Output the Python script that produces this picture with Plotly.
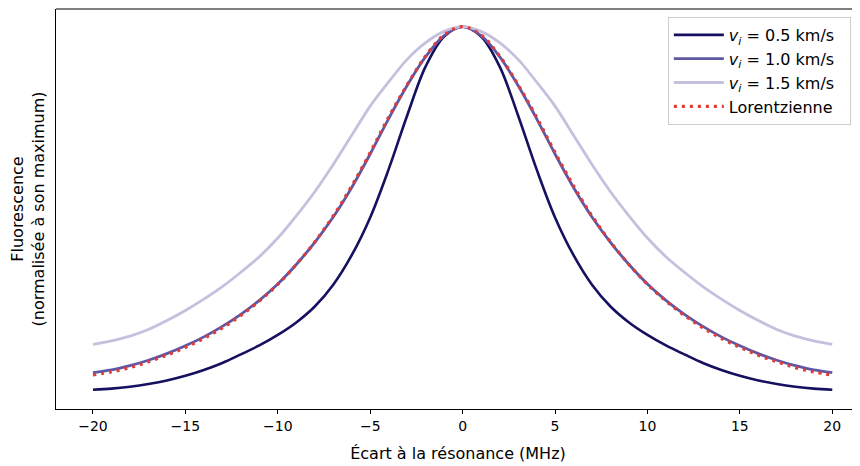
import plotly.graph_objects as go

# Detuning (MHz)
detuning = list(range(-20, 21))

# Normalised fluorescence
v05 = [0.067, 0.070, 0.075, 0.082, 0.091, 0.103, 0.118, 0.136, 0.158, 0.181,
       0.208, 0.240, 0.281, 0.337, 0.413, 0.510, 0.634, 0.772, 0.898, 0.975,
       1.000,
       0.975, 0.898, 0.772, 0.634, 0.510, 0.413, 0.337, 0.281, 0.240, 0.208,
       0.181, 0.158, 0.136, 0.118, 0.103, 0.091, 0.082, 0.075, 0.070, 0.067]
v10 = [0.111, 0.118, 0.129, 0.143, 0.160, 0.180, 0.203, 0.230, 0.261, 0.297,
       0.339, 0.389, 0.446, 0.511, 0.587, 0.673, 0.764, 0.849, 0.923, 0.977,
       1.000,
       0.977, 0.923, 0.849, 0.764, 0.673, 0.587, 0.511, 0.446, 0.389, 0.339,
       0.297, 0.261, 0.230, 0.203, 0.180, 0.160, 0.143, 0.129, 0.118, 0.111]
v15 = [0.184, 0.193, 0.205, 0.222, 0.245, 0.271, 0.300, 0.332, 0.369, 0.409,
       0.457, 0.514, 0.576, 0.646, 0.721, 0.796, 0.858, 0.916, 0.959, 0.988,
       1.000,
       0.988, 0.959, 0.916, 0.858, 0.796, 0.721, 0.646, 0.576, 0.514, 0.457,
       0.409, 0.369, 0.332, 0.300, 0.271, 0.245, 0.222, 0.205, 0.193, 0.184]
lorentz = [0.105, 0.113, 0.124, 0.139, 0.156, 0.176, 0.199, 0.226, 0.258, 0.295,
           0.338, 0.389, 0.447, 0.514, 0.591, 0.677, 0.768, 0.851, 0.925, 0.979,
           1.000,
           0.979, 0.925, 0.851, 0.768, 0.677, 0.591, 0.514, 0.447, 0.389, 0.338,
           0.295, 0.258, 0.226, 0.199, 0.176, 0.156, 0.139, 0.124, 0.113, 0.105]

names = ["<i>v<sub>i</sub></i> = 0.5 km/s\u00a0\u00a0",
         "<i>v<sub>i</sub></i> = 1.0 km/s\u00a0\u00a0",
         "<i>v<sub>i</sub></i> = 1.5 km/s\u00a0\u00a0",
         "Lorentzienne\u00a0\u00a0"]
xticks = [-20, -15, -10, -5, 0, 5, 10, 15, 20]
xticklabels = ["−20", "−15", "−10", "−5", "0", "5", "10", "15", "20"]

fig = go.Figure()
series = [(v05, "#15105f", 2.6, "solid"),
          (v10, "#5e58a4", 2.8, "solid"),
          (v15, "#c3c1de", 2.8, "solid"),
          (lorentz, "#e03a3a", 3.2, "3px,5px")]
for (ys, col, w, dash), nm in zip(series, names):
    fig.add_trace(go.Scatter(x=detuning, y=ys, mode="lines", name=nm,
                             line=dict(color=col, width=w, dash=dash,
                                       shape="spline", smoothing=1.0)))

font_family = "DejaVu Sans"
# the page body adds an 8 px offset; the figure is shrunk to compensate
fig.update_layout(
    width=852, height=458,
    margin=dict(l=48, r=0, t=1, b=57, autoexpand=False),
    paper_bgcolor="white", plot_bgcolor="white",
    font=dict(family=font_family, size=14, color="black"),
    showlegend=True,
    legend=dict(x=0.761, y=0.98, xanchor="left", yanchor="top",
                bgcolor="rgba(255,255,255,0.8)", bordercolor="#cccccc",
                borderwidth=1, font=dict(size=16, family=font_family),
                tracegroupgap=1, itemwidth=50),
    xaxis=dict(range=[-22, 21.5], tickvals=xticks, ticktext=xticklabels,
               automargin=False,
               showgrid=False, zeroline=False, showline=True,
               linecolor="black", linewidth=1.1, ticks="outside",
               ticklen=4, tickwidth=1, tickcolor="black",
               tickfont=dict(size=14),
               title=dict(text="Écart à la résonance (MHz)",
                          font=dict(size=16), standoff=14)),
    yaxis=dict(range=[0.0177, 1.0455], showticklabels=False, ticks="",
               automargin=False,
               showgrid=False, zeroline=False, showline=True,
               linecolor="black", linewidth=1.1,
               title=dict(text="Fluorescence<br>(normalisée à son maximum)",
                          font=dict(size=16), standoff=8)),
)
fig.add_shape(type="line", xref="paper", yref="paper", x0=0, x1=1, y0=1, y1=1,
              line=dict(color="black", width=1.1))

fig.write_html("out.html")
